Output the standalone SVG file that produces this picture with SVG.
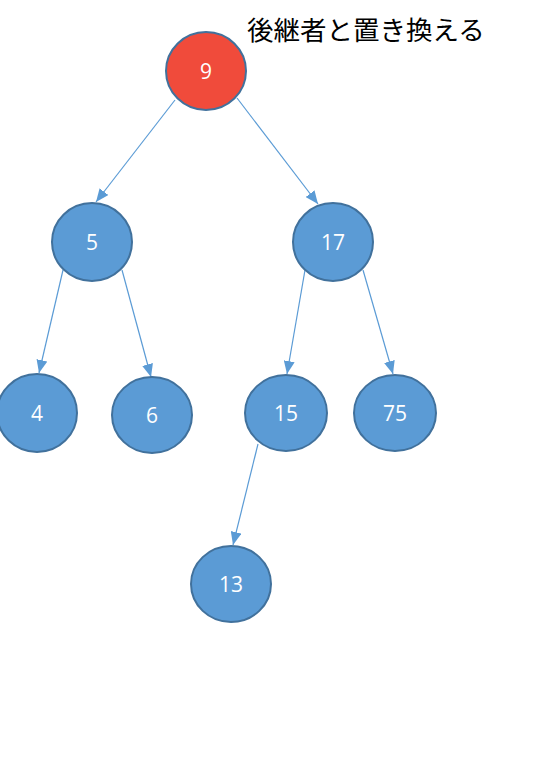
<svg xmlns="http://www.w3.org/2000/svg" width="558" height="784" viewBox="0 0 558 784">
<defs>
<style>
.node{fill:#5b9bd5;stroke:#41719c;stroke-width:2}
.root{fill:#f04b3b;stroke:#41719c;stroke-width:2}
.lbl{fill:#ffffff;font-family:"Open Sans","Liberation Sans",sans-serif;font-size:21px;text-anchor:middle;dominant-baseline:central}
.edge{stroke:#5b9bd5;stroke-width:1.2;fill:none;marker-end:url(#arr)}
.title{fill:#000000;font-family:"Noto Sans CJK JP",sans-serif;font-size:26.5px}
</style>
<marker id="arr" viewBox="0 0 13 11" refX="13" refY="5.5" markerWidth="13" markerHeight="11" markerUnits="userSpaceOnUse" orient="auto">
<path d="M0,0 L13,5.5 L0,11 Z" fill="#5b9bd5"/>
</marker>
</defs>
<rect width="558" height="784" fill="#ffffff"/>
<text class="title" x="247" y="40">後継者と置き換える</text>
<g id="connectors">
<line class="edge" x1="175" y1="100" x2="96" y2="202"/>
<line class="edge" x1="237" y1="98" x2="318" y2="204"/>
<line class="edge" x1="63" y1="270" x2="39" y2="373"/>
<line class="edge" x1="122" y1="270" x2="151" y2="377"/>
<line class="edge" x1="305" y1="270" x2="287" y2="374"/>
<line class="edge" x1="363" y1="270" x2="393" y2="374"/>
<line class="edge" x1="258" y1="444" x2="233" y2="545"/>
</g>
<g id="n9"><ellipse class="root" cx="206" cy="71" rx="40" ry="39"/><text class="lbl" x="206" y="71">9</text></g>
<g id="n5"><ellipse class="node" cx="92" cy="242" rx="40" ry="39"/><text class="lbl" x="92" y="242">5</text></g>
<g id="n17"><ellipse class="node" cx="333" cy="242" rx="40" ry="39"/><text class="lbl" x="333" y="242">17</text></g>
<g id="n4"><ellipse class="node" cx="37" cy="413" rx="40" ry="39"/><text class="lbl" x="37" y="413">4</text></g>
<g id="n6"><ellipse class="node" cx="152" cy="415" rx="40" ry="38"/><text class="lbl" x="152" y="415">6</text></g>
<g id="n15"><ellipse class="node" cx="286" cy="413" rx="41" ry="38"/><text class="lbl" x="286" y="413">15</text></g>
<g id="n75"><ellipse class="node" cx="395" cy="413" rx="41" ry="38"/><text class="lbl" x="395" y="413">75</text></g>
<g id="n13"><ellipse class="node" cx="231" cy="584" rx="40" ry="38"/><text class="lbl" x="231" y="584">13</text></g>
</svg>
